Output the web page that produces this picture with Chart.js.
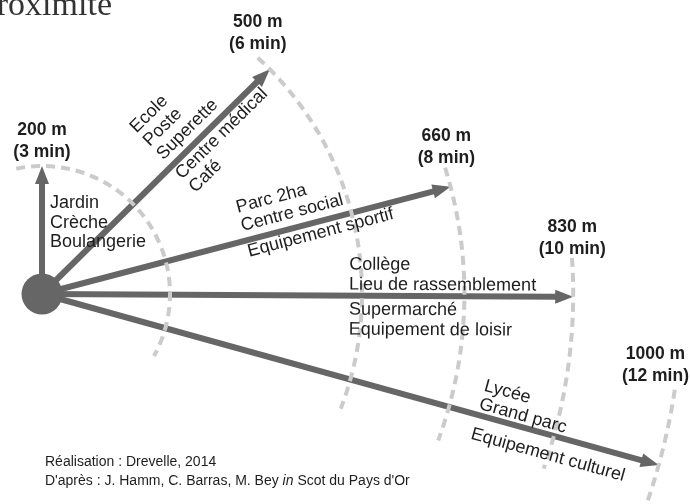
<!DOCTYPE html>
<html><head><meta charset="utf-8">
<script src="https://cdn.jsdelivr.net/npm/chart.js@4/dist/chart.umd.min.js"></script>
<style>html,body{margin:0;padding:0;background:#fff}#wrap{width:690px;height:504px;position:relative}</style>
</head><body><div id="wrap"><canvas id="c" width="690" height="504"></canvas></div>
<script>
// ---------- DATA ----------
const distances = [200, 500, 660, 830, 1000];            // metres
const distanceLabels = ["200 m", "500 m", "660 m", "830 m", "1000 m"];
const timeLabels = ["(3 min)", "(6 min)", "(8 min)", "(10 min)", "(12 min)"];
const directions = [90, 44.6, 14.7, -0.3, -15.5];        // degrees, direction of each arrow
const amenitiesAbove = [
  ["Jardin", "Crèche", "Boulangerie"],
  ["Ecole", "Poste", "Superette"],
  ["Parc 2ha", "Centre social"],
  ["Collège", "Lieu de rassemblement"],
  ["Lycée", "Grand parc"]
];
const amenitiesBelow = [
  [],
  ["Centre médical", "Café"],
  ["Equipement sportif"],
  ["Supermarché", "Equipement de loisir"],
  ["Equipement culturel"]
];
const titleFragment = "proximité";
const creditLine1 = "Réalisation : Drevelle, 2014";
const creditLine2 = [["D'après : J. Hamm, C. Barras, M. Bey ", false], ["in", true], [" Scot du Pays d'Or", false]];

// ---------- STYLE / LAYOUT ----------
const W = 690, H = 504;
const PX_PER_M = 0.64;
const ORIGIN_PX = { x: 42, y: 294 };
const ARROW = "#666666";
const ARC = "#cbcbcb";
const TEXT = "#1e1e1e";
const SANS = '"Liberation Sans", Arial, sans-serif';
const arcStart = [101.6, 47.6, 17.4, 3.9, -8.6];
const arcEnd = [-29, -21, -20.3, -19.2, -25];
const labelAngle = [90, 47.6, 16.8, 3.3, -8.6];
const textLayout = [
  { rotate: false, dx: 8, firstBaseline: -86, lh: 19.5 },
  { rotate: true, along: 180, above: 10, below: 17, lh: 19 },
  { rotate: true, along: 210, above: 10, below: 16.5, lh: 19 },
  { rotate: true, along: 307, above: 6, below: 19, lh: 20 },
  { rotate: true, along: 451, above: 6, below: 25, lh: 19 }
];
const SHAFT_TRIM_M = 26;
const HEAD_LEN = 18, HEAD_W = 14;

const rad = d => d * Math.PI / 180;
const xMin = -ORIGIN_PX.x / PX_PER_M, xMax = (W - ORIGIN_PX.x) / PX_PER_M;
const yMax = ORIGIN_PX.y / PX_PER_M, yMin = -(H - ORIGIN_PX.y) / PX_PER_M;

const hubDataset = {
  data: [{ x: 0, y: 0 }], pointRadius: 20.5, pointStyle: 'circle',
  backgroundColor: ARROW, borderWidth: 0, showLine: false
};
const shaftDatasets = distances.map((d, i) => ({
  data: [{ x: 0, y: 0 }, {
    x: (d - SHAFT_TRIM_M) * Math.cos(rad(directions[i])),
    y: (d - SHAFT_TRIM_M) * Math.sin(rad(directions[i]))
  }],
  showLine: true, borderColor: ARROW, borderWidth: 6, pointRadius: 0,
  borderCapStyle: 'butt', fill: false
}));

const overlay = {
  id: 'overlay',
  afterDatasetsDraw(chart) {
    const ctx = chart.ctx, xs = chart.scales.x, ys = chart.scales.y;
    const ox = xs.getPixelForValue(0), oy = ys.getPixelForValue(0);
    const pxm = xs.getPixelForValue(1) - xs.getPixelForValue(0);
    // arrow heads
    ctx.save();
    ctx.fillStyle = ARROW;
    distances.forEach((d, i) => {
      const a = rad(directions[i]);
      const tx = xs.getPixelForValue(d * Math.cos(a)), ty = ys.getPixelForValue(d * Math.sin(a));
      const ux = Math.cos(a), uy = -Math.sin(a);
      const nx = -uy, ny = ux;
      const bx = tx - HEAD_LEN * ux, by = ty - HEAD_LEN * uy;
      ctx.beginPath();
      ctx.moveTo(tx, ty);
      ctx.lineTo(bx + nx * HEAD_W / 2, by + ny * HEAD_W / 2);
      ctx.lineTo(bx - nx * HEAD_W / 2, by - ny * HEAD_W / 2);
      ctx.closePath();
      ctx.fill();
    });
    ctx.restore();
    // dashed isochrone arcs
    ctx.save();
    ctx.strokeStyle = ARC; ctx.lineWidth = 4; ctx.setLineDash([9, 6]); ctx.lineCap = 'butt';
    distances.forEach((d, i) => {
      const r = d * pxm;
      ctx.beginPath();
      ctx.arc(ox, oy, r, -rad(arcStart[i]), -rad(arcEnd[i]), false);
      ctx.stroke();
    });
    ctx.restore();
  },
  afterDraw(chart) {
    const ctx = chart.ctx, xs = chart.scales.x, ys = chart.scales.y;
    const ox = xs.getPixelForValue(0), oy = ys.getPixelForValue(0);
    const pxm = xs.getPixelForValue(1) - xs.getPixelForValue(0);
    ctx.save();
    ctx.fillStyle = TEXT;
    // distance / time labels
    ctx.font = 'bold 17.5px ' + SANS;
    ctx.textAlign = 'center'; ctx.textBaseline = 'alphabetic';
    distances.forEach((d, i) => {
      const r = d * pxm, a = rad(labelAngle[i]);
      const ax = ox + r * Math.cos(a), ay = oy - r * Math.sin(a);
      const w = Math.max(ctx.measureText(distanceLabels[i]).width, ctx.measureText(timeLabels[i]).width);
      const cx = Math.min(Math.max(ax, w / 2 + 2), W - w / 2 - 1);
      ctx.fillText(distanceLabels[i], cx, ay - 31);
      ctx.fillText(timeLabels[i], cx, ay - 9);
    });
    // amenities
    ctx.font = '18px ' + SANS;
    ctx.textAlign = 'left';
    distances.forEach((d, i) => {
      const L = textLayout[i];
      const above = amenitiesAbove[i], below = amenitiesBelow[i];
      if (!L.rotate) {
        const all = above.concat(below);
        all.forEach((t, k) => ctx.fillText(t, ox + L.dx, oy + L.firstBaseline + k * L.lh));
        return;
      }
      ctx.save();
      ctx.translate(ox, oy);
      ctx.rotate(-rad(directions[i]));
      const n = above.length;
      above.forEach((t, k) => ctx.fillText(t, L.along, -(L.above + (n - 1 - k) * L.lh)));
      below.forEach((t, k) => ctx.fillText(t, L.along, L.below + k * L.lh));
      ctx.restore();
    });
    // cut title fragment at top
    ctx.font = '34px "Liberation Serif", "Times New Roman", serif';
    ctx.fillStyle = '#333333';
    ctx.textAlign = 'right';
    ctx.fillText(titleFragment, 112, 15);
    // credits
    ctx.fillStyle = TEXT;
    ctx.textAlign = 'left';
    ctx.font = '14px ' + SANS;
    ctx.fillText(creditLine1, 45, 466);
    let x = 45;
    creditLine2.forEach(([t, it]) => {
      ctx.font = (it ? 'italic ' : '') + '14px ' + SANS;
      ctx.fillText(t, x, 485);
      x += ctx.measureText(t).width;
    });
    ctx.restore();
  }
};

new Chart(document.getElementById('c'), {
  type: 'scatter',
  data: { datasets: [hubDataset].concat(shaftDatasets) },
  options: {
    responsive: false, animation: false, events: [],
    layout: { padding: 0, autoPadding: false },
    plugins: { legend: { display: false }, tooltip: { enabled: false } },
    scales: {
      x: { type: 'linear', min: xMin, max: xMax, display: false },
      y: { type: 'linear', min: yMin, max: yMax, display: false }
    }
  },
  plugins: [overlay]
});
</script></body></html>
